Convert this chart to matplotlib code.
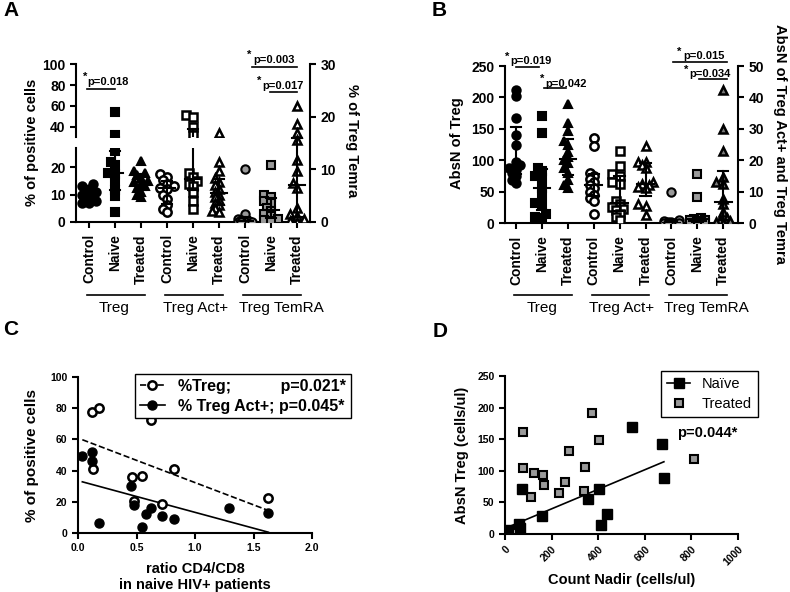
import numpy as np
import matplotlib
matplotlib.use("Agg")
import matplotlib.pyplot as plt
from matplotlib import transforms
from matplotlib.lines import Line2D

plt.rcParams['font.family'] = ['Liberation Sans', 'DejaVu Sans']
plt.rcParams['font.weight'] = 'bold'
plt.rcParams['axes.labelweight'] = 'bold'
plt.rcParams['axes.linewidth'] = 1.5

# ============================================
# data
# ============================================
cats = ["Control", "Naive", "Treated"] * 3
group_names = ["Treg", "Treg Act+", "Treg TemRA"]

# A: % of positive cells (Treg, Act+ on left axis, TemRA on right axis)
a_treg_ctrl = [13.8, 13.0, 12.2, 11.0, 10.3, 9.8, 9.2, 8.4, 7.6, 7.0, 6.8]
a_treg_naive = [54, 32, 26, 22, 21, 18, 17.5, 15, 11.5, 9.5, 3.6]
a_treg_treat = [22.5, 18.5, 18, 17, 16, 15, 14.5, 14, 13, 12.5, 11, 10, 9]
a_act_ctrl = [17.5, 16.5, 15.5, 14, 13, 12.5, 12, 10, 8.5, 6, 4.5, 3.5]
a_act_naive = [51.5, 49.5, 40, 32, 18, 16.5, 15, 14, 13, 11, 7.5, 4.5]
a_act_treat = [33.5, 22, 18.5, 16, 14.5, 13.5, 12, 11, 10, 9, 8, 7, 6, 5, 4, 3.5]
a_tem_ctrl = [10.1, 1.5, 0.6, 0.3, 0.2, 0.1, 0, 0, 0, 0]
a_tem_naive = [10.8, 5.1, 4.8, 3.9, 3.5, 2.6, 2.0, 1.5, 1.0, 0.6, 0.3, 0.1]
a_tem_treat = [22.1, 18.7, 17.0, 15.6, 11.8, 9.6, 7.3, 6.5, 2.6, 1.5, 1.0, 0.5, 0.2, 0.0]

# B: absolute numbers (Treg on left axis, Act+ and TemRA on right axis)
b_treg_ctrl = [211, 202, 167, 140, 124, 97, 92, 88, 85, 80, 75, 68, 63]
b_treg_naive = [170, 143, 88, 83, 75, 72, 55, 45, 32, 28, 14, 10, 8]
b_treg_treat = [190, 160, 147, 130, 125, 113, 105, 100, 95, 87, 80, 68, 60, 55]
b_act_ctrl = [27, 24.5, 16, 15, 14, 13, 12, 11, 10, 9, 8, 7, 3]
b_act_naive = [23, 18, 15.5, 15, 13, 12.5, 7, 6, 5, 4.5, 4, 3, 2, 1]
b_act_treat = [24.5, 19.5, 19.5, 18.5, 17.5, 13, 12.5, 12, 11.5, 11, 6, 5.5, 2.5]
b_tem_ctrl = [10, 0.8, 0.5, 0.3, 0.2, 0.1, 0, 0, 0, 0]
b_tem_naive = [15.5, 8.4, 1.5, 1.2, 1.0, 0.8, 0.5, 0.3, 0.1, 0, 0, 0]
b_tem_treat = [42.5, 30, 23, 14.5, 13, 12.5, 7.5, 6, 3.5, 1.5, 1, 0.5, 0.2, 0]

# C: ratio CD4/CD8 vs % positive cells
c_ratio_treg = [0.117, 0.18, 0.624, 0.125, 0.823, 0.459, 0.544, 0.48, 0.72, 1.627]
c_treg = [77.8, 80, 72.4, 41, 41, 35.7, 36.5, 20.7, 18.6, 22.2]
c_ratio_act = [0.037, 0.117, 0.122, 0.18, 0.453, 0.476, 0.544, 0.578, 0.624, 0.72, 0.823, 1.294, 1.627]
c_act = [49.6, 52, 46, 6.2, 30, 18, 4, 12, 15.8, 11, 9, 15.8, 12.6]

# D: count nadir vs AbsN Treg
d_nadir_naive = [14, 60, 64, 73, 160, 356, 403, 413, 436, 544, 672, 682]
d_treg_naive = [7, 16, 10, 71, 28, 56, 71, 14, 32, 169, 143, 89]
d_nadir_treat = [76, 76, 124, 165, 167, 112, 230, 259, 275, 342, 340, 372, 403, 811]
d_treg_treat = [161, 105, 96, 93, 77, 58, 65, 83, 132, 106, 68, 191, 149, 118]

# ============================================
# helpers
# ============================================
W, H = 790, 592
fig = plt.figure(figsize=(W / 100, H / 100), dpi=100)


def add_ax(l, t, r, b):
    return fig.add_axes([l / W, 1 - b / H, (r - l) / W, (b - t) / H])


def swarm(vals, to_px, unit_px=25.9, d=4.5, step=3.6):
    # simple deterministic beeswarm offsets (in category units)
    vals = np.asarray(vals, float)
    offs = np.zeros(len(vals))
    placed = []
    for i in np.argsort(vals):
        y = to_px(vals[i])
        best, best_d = 0.0, -1
        for k in [0, -1, 1, -2, 2]:
            xo = k * step
            md = min([np.hypot(xo - px, y - py) for px, py in placed] + [99])
            if md >= d:
                best = xo
                break
            if md > best_d:
                best, best_d = xo, md
        placed.append((best, y))
        offs[i] = best / unit_px
    return offs


def dotcol(axes, x, vals, to_px, marker, face, ms=6, edge='k', mew=1.5):
    offs = swarm(vals, to_px)
    q1, med, q3 = np.percentile(vals, [25, 50, 75], method='weibull')
    for ax in axes:
        ax.plot(x + offs, vals, ls='none', marker=marker, ms=ms, mfc=face,
                mec=edge, mew=mew, zorder=3)
        ax.plot([x - 0.32, x + 0.32], [med, med], color='k', lw=1.5, zorder=4)
        ax.plot([x, x], [q1, q3], color='k', lw=1.5, zorder=4)
        ax.plot([x - 0.2, x + 0.2], [q1, q1], color='k', lw=1.5, zorder=4)
        ax.plot([x - 0.2, x + 0.2], [q3, q3], color='k', lw=1.5, zorder=4)


def style_ticks(ax, size=10):
    ax.tick_params(direction='out', length=4, width=1.5, labelsize=size)


def sig(ax, x1, x2, y, tx, ty, label, sx, sy):
    ax.plot([x1, x2], [y, y], color='k', lw=1.2, clip_on=False)
    ax.text(tx, ty, label, fontsize=8, ha='left', va='center')
    ax.text(sx, sy, '*', fontsize=8, ha='center', va='center')


def groups_below(ax, label_x, line_y=295, text_y=308):
    tr = transforms.blended_transform_factory(ax.transData, fig.transFigure)
    for g in range(3):
        ax.plot([g * 3 + 0.92, g * 3 + 3.15], [1 - line_y / H] * 2, color='k',
                lw=1.2, transform=tr, clip_on=False)
        ax.text(label_x[g], 1 - text_y / H, group_names[g], transform=tr,
                ha='center', va='center', fontsize=11, fontweight='normal')


xs = np.arange(1, 10)
gray = '#9a9a9a'

# ============================================
# Panel A (broken left axis + right axis)
# ============================================
axA_bot = add_ax(76, 148.3, 310, 221.7)
axA_top = add_ax(76, 64.3, 310, 136.9)
axA_r = add_ax(76, 64.3, 310, 221.7)
axA_r.patch.set_visible(False)


def a_left_px(v):
    return v * 2.7 if v <= 28 else 85 + (v - 30) * 1.04


def a_right_px(v):
    return v * 5.26


A_left = [axA_top, axA_bot]
dotcol(A_left, 1, a_treg_ctrl, a_left_px, 'o', 'k')
dotcol(A_left, 2, a_treg_naive, a_left_px, 's', 'k', ms=5.5)
dotcol(A_left, 3, a_treg_treat, a_left_px, '^', 'k')
dotcol(A_left, 4, a_act_ctrl, a_left_px, 'o', 'white', mew=1.8)
dotcol(A_left, 5, a_act_naive, a_left_px, 's', 'white', ms=5.5, mew=1.8)
dotcol(A_left, 6, a_act_treat, a_left_px, '^', 'white', mew=1.8)
dotcol([axA_r], 7, a_tem_ctrl, a_right_px, 'o', gray)
dotcol([axA_r], 8, a_tem_naive, a_right_px, 's', gray, ms=5.5)
dotcol([axA_r], 9, a_tem_treat, a_right_px, '^', 'white', mew=1.8)

for ax in [axA_top, axA_bot, axA_r]:
    ax.set_xlim(0.5, 9.5)
    style_ticks(ax)
    for s in ['top', 'right']:
        ax.spines[s].set_visible(False)

axA_top.set_ylim(30, 100)
axA_top.set_yticks([40, 60, 80, 100])
axA_top.spines['bottom'].set_visible(False)
axA_top.set_xticks([])

axA_bot.set_ylim(0, 27)
axA_bot.set_yticks([0, 10, 20])
axA_bot.set_xticks(xs)
axA_bot.set_xticklabels(cats, rotation=90)
axA_bot.tick_params(axis='x', pad=5)

axA_r.set_ylim(0, 30)
axA_r.yaxis.tick_right()
axA_r.spines['right'].set_visible(True)
axA_r.spines['left'].set_visible(False)
axA_r.spines['bottom'].set_visible(False)
axA_r.set_yticks([0, 10, 20, 30])
axA_r.set_xticks([])

sig(axA_r, 0.93, 2.0, 25.2, 0.93, 26.6, 'p=0.018', 0.85, 27.6)
sig(axA_r, 7.27, 9.0, 29.4, 7.3, 30.8, 'p=0.003', 7.18, 31.8)
sig(axA_r, 7.98, 9.0, 24.8, 7.67, 25.8, 'p=0.017', 7.53, 26.8)

groups_below(axA_bot, [1.98, 5.09, 8.41])

fig.text(32 / W, 1 - 142 / H, '% of positive cells', rotation=90,
         ha='center', va='center', fontsize=10.5)
fig.text(352 / W, 1 - 141 / H, '% of Treg Temra', rotation=270,
         ha='center', va='center', fontsize=10.5)

# ============================================
# Panel B
# ============================================
axB = add_ax(505, 66, 738, 223)
axB_r = add_ax(505, 66, 738, 223)
axB_r.patch.set_visible(False)


def b_left_px(v):
    return v * 0.628


def b_right_px(v):
    return v * 3.14


dotcol([axB], 1, b_treg_ctrl, b_left_px, 'o', 'k')
dotcol([axB], 2, b_treg_naive, b_left_px, 's', 'k', ms=5.5)
dotcol([axB], 3, b_treg_treat, b_left_px, '^', 'k')
dotcol([axB_r], 4, b_act_ctrl, b_right_px, 'o', 'white', mew=1.8)
dotcol([axB_r], 5, b_act_naive, b_right_px, 's', 'white', ms=5.5, mew=1.8)
dotcol([axB_r], 6, b_act_treat, b_right_px, '^', 'white', mew=1.8)
dotcol([axB_r], 7, b_tem_ctrl, b_right_px, 'o', gray)
dotcol([axB_r], 8, b_tem_naive, b_right_px, 's', gray, ms=5.5)
dotcol([axB_r], 9, b_tem_treat, b_right_px, '^', '#7a7a7a', mew=1.8)

for ax in [axB, axB_r]:
    ax.set_xlim(0.575, 9.57)
    style_ticks(ax)
    ax.spines['top'].set_visible(False)

axB.set_ylim(0, 250)
axB.set_yticks([0, 50, 100, 150, 200, 250])
axB.spines['right'].set_visible(False)
axB.set_xticks(xs)
axB.set_xticklabels(cats, rotation=90)
axB.tick_params(axis='x', pad=5)

axB_r.set_ylim(0, 50)
axB_r.yaxis.tick_right()
axB_r.spines['left'].set_visible(False)
axB_r.spines['bottom'].set_visible(False)
axB_r.set_yticks([0, 10, 20, 30, 40, 50])
axB_r.set_xticks([])

sig(axB_r, 1.0, 1.88, 49.7, 0.78, 51.6, 'p=0.019', 0.67, 52.9)
sig(axB_r, 2.07, 2.93, 42.9, 2.12, 44.3, 'p=0.042', 2.0, 45.9)
sig(axB_r, 7.05, 9.15, 51.2, 7.45, 53.1, 'p=0.015', 7.3, 54.5)
sig(axB_r, 8.07, 9.15, 45.9, 7.7, 47.4, 'p=0.034', 7.58, 48.9)

groups_below(axB, [2.0, 5.07, 8.35])

fig.text(457 / W, 1 - 143 / H, 'AbsN of Treg', rotation=90,
         ha='center', va='center', fontsize=10.5)
fig.text(780 / W, 1 - 144 / H, 'AbsN of Treg Act+ and Treg Temra', rotation=270,
         ha='center', va='center', fontsize=10.5)

# ============================================
# Panel C
# ============================================
axC = add_ax(78, 377, 312, 533)
xr = np.array([min(c_ratio_act + c_ratio_treg), max(c_ratio_act + c_ratio_treg)])
k1, b1 = np.polyfit(c_ratio_treg, c_treg, 1)
k2, b2 = np.polyfit(c_ratio_act, c_act, 1)
axC.plot(xr, k1 * xr + b1, 'k--', lw=1.2)
axC.plot(xr, k2 * xr + b2, 'k-', lw=1.2)
axC.plot(c_ratio_treg, c_treg, ls='none', marker='o', ms=6, mfc='white',
         mec='k', mew=1.8, zorder=3)
axC.plot(c_ratio_act, c_act, ls='none', marker='o', ms=6.5, mfc='k', mec='k', zorder=3)
axC.set_xlim(0, 2)
axC.set_ylim(0, 100)
axC.set_xticks([0, 0.5, 1.0, 1.5, 2.0])
axC.set_xticklabels(['0.0', '0.5', '1.0', '1.5', '2.0'])
axC.set_yticks([0, 20, 40, 60, 80, 100])
for s in ['top', 'right']:
    axC.spines[s].set_visible(False)
style_ticks(axC, 7.5)
axC.set_xlabel('ratio CD4/CD8\nin naive HIV+ patients', fontsize=10.5, labelpad=6)
axC.set_ylabel('% of positive cells', fontsize=11, labelpad=8)
hC = [Line2D([], [], ls='--', color='k', lw=1.2, marker='o', ms=6, mfc='white', mew=1.8),
      Line2D([], [], ls='-', color='k', lw=1.2, marker='o', ms=6.5, mfc='k')]
legC = axC.legend(hC, ['%Treg;           p=0.021*', '% Treg Act+; p=0.045*'],
                  loc='upper left', bbox_to_anchor=(0.209, 1.07), fontsize=11.5,
                  frameon=True, fancybox=False, edgecolor='k', framealpha=1,
                  handlelength=1.6, borderpad=0.3, labelspacing=0.3)
legC.get_frame().set_linewidth(1.0)

# ============================================
# Panel D
# ============================================
axD = add_ax(505, 376, 738, 534)
k3, b3 = np.polyfit(d_nadir_naive, d_treg_naive, 1)
xn = np.array([min(d_nadir_naive), max(d_nadir_naive)])
axD.plot(xn, k3 * xn + b3, 'k-', lw=1.2)
axD.plot(d_nadir_naive, d_treg_naive, ls='none', marker='s', ms=6.5, mfc='k', mec='k', zorder=3)
axD.plot(d_nadir_treat, d_treg_treat, ls='none', marker='s', ms=6, mfc=gray, mec='k',
         mew=1.5, zorder=3)
axD.set_xlim(0, 1000)
axD.set_ylim(0, 250)
axD.set_xticks(range(0, 1001, 200))
axD.set_yticks(range(0, 251, 50))
for s in ['top', 'right']:
    axD.spines[s].set_visible(False)
style_ticks(axD, 7.5)
plt.setp(axD.get_xticklabels(), rotation=45, ha='right', va='top', rotation_mode='anchor')
axD.set_xlabel('Count Nadir (cells/ul)', fontsize=10.5, labelpad=4)
axD.set_ylabel('AbsN Treg (cells/ul)', fontsize=10.5, labelpad=6)
axD.text(738, 160, 'p=0.044*', fontsize=10.5, ha='left', va='center')
hD = [Line2D([], [], ls='-', color='k', lw=1.2, marker='s', ms=6.5, mfc='k'),
      Line2D([], [], ls='none', marker='s', ms=6, mfc=gray, mec='k', mew=1.5)]
legD = axD.legend(hD, ['Naïve', 'Treated'], loc='upper left', bbox_to_anchor=(0.639, 1.076),
                  prop={'size': 10.5, 'weight': 'normal'}, frameon=True, fancybox=False,
                  edgecolor='k', framealpha=1, handlelength=1.6, borderpad=0.4,
                  labelspacing=0.4)
legD.get_frame().set_linewidth(1.0)

# panel letters
for lx, ly, letter in [(3, 1, 'A'), (432, 1, 'B'), (3, 320, 'C'), (433, 322, 'D')]:
    fig.text(lx / W, 1 - ly / H, letter, fontsize=15, ha='left', va='top')

fig.savefig('out.png', dpi=100)
